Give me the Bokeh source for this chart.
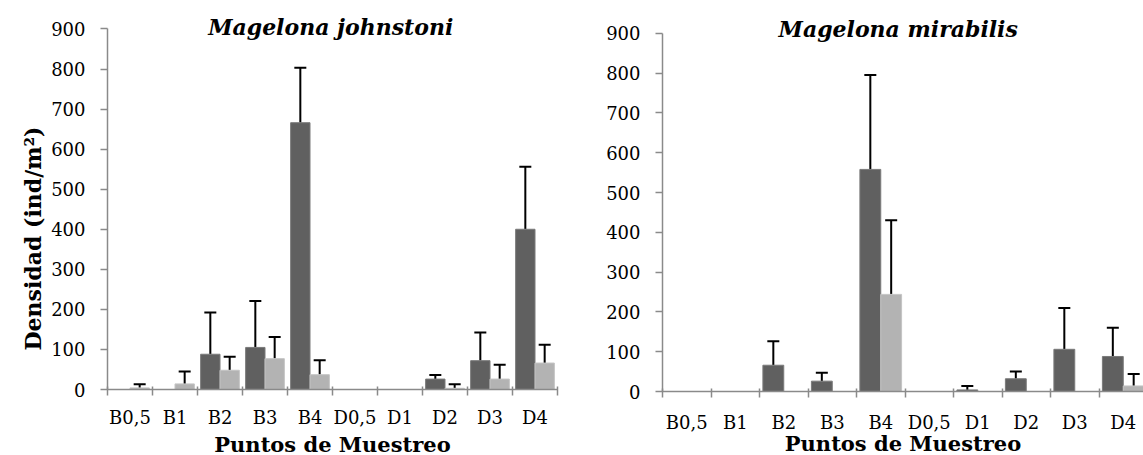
import numpy as np
from bokeh.plotting import figure
from bokeh.models import ColumnDataSource, Range1d, FixedTicker, Whisker, TeeHead, Label, Title
from bokeh.layouts import row
from bokeh.embed import file_html
from bokeh.resources import INLINE

# ---------------- data ----------------
categories = ["B0,5", "B1", "B2", "B3", "B4", "D0,5", "D1", "D2", "D3", "D4"]
y_ticks = [0, 100, 200, 300, 400, 500, 600, 700, 800, 900]

# Magelona johnstoni
johnstoni_dark = [0, 0, 88, 105, 666, 0, 0, 26, 72, 400]
johnstoni_dark_err = [0, 0, 104, 116, 137, 0, 0, 10, 70, 156]
johnstoni_light = [4, 14, 48, 77, 37, 0, 0, 3, 26, 66]
johnstoni_light_err = [9, 31, 34, 54, 36, 0, 0, 10, 36, 46]

# Magelona mirabilis
mirabilis_dark = [0, 0, 66, 26, 558, 0, 4, 32, 106, 88]
mirabilis_dark_err = [0, 0, 60, 21, 237, 0, 10, 18, 104, 72]
mirabilis_light = [0, 0, 0, 0, 244, 0, 0, 0, 0, 14]
mirabilis_light_err = [0, 0, 0, 0, 186, 0, 0, 0, 0, 30]

# ---------------- styles ----------------
FONT = "DejaVu Serif"
DARK = "#606060"
LIGHT = "#b3b3b3"
AXIS = "#8a8a8a"


def make_panel(title, dark, dark_err, light, light_err, x_end, y_end,
               title_x, title_y, frame_w, frame_h, b_left, b_right, b_bottom,
               label_standoff, xlabel_standoff, ylabel):
    n = len(categories)
    centers = np.arange(n) + 0.5
    p = figure(frame_width=frame_w, frame_height=frame_h, title=None,
               x_range=Range1d(0, x_end), y_range=Range1d(0, y_end),
               output_backend="svg", toolbar_location=None,
               min_border_left=b_left, min_border_right=b_right,
               min_border_top=0, min_border_bottom=b_bottom)
    p.xgrid.visible = False
    p.ygrid.visible = False
    p.outline_line_color = None
    p.background_fill_color = "white"

    off = 0.215
    bw = 0.43
    p.vbar(x=centers - off, top=dark, width=bw, bottom=0,
           fill_color=DARK, line_color="#7a7a7a", line_width=1)
    p.vbar(x=centers + off, top=light, width=bw, bottom=0,
           fill_color=LIGHT, line_color="#c4c4c4", line_width=1)

    for vals, errs, shift in ((dark, dark_err, -off), (light, light_err, off)):
        v = np.array(vals, dtype=float)
        e = np.array(errs, dtype=float)
        m = e > 0
        src = ColumnDataSource(dict(x=(centers + shift)[m], lower=v[m], upper=(v + e)[m]))
        w = Whisker(base="x", lower="lower", upper="upper", source=src,
                    dimension="height", line_color="black", line_width=2,
                    upper_head=TeeHead(size=12, line_color="black", line_width=2),
                    lower_head=None)
        p.add_layout(w)

    # x axis
    xa = p.xaxis[0]
    xa.ticker = FixedTicker(ticks=list(centers), minor_ticks=list(range(n + 1)))
    xa.major_label_overrides = {float(c): lab for c, lab in zip(centers, categories)}
    xa.major_tick_in = 0
    xa.major_tick_out = 0
    xa.major_tick_line_color = None
    xa.minor_tick_in = 3
    xa.minor_tick_out = 6
    xa.minor_tick_line_color = AXIS
    xa.minor_tick_line_width = 1.5
    xa.axis_line_color = AXIS
    xa.axis_line_width = 1.5
    xa.major_label_standoff = label_standoff
    xa.major_label_text_font = FONT
    xa.major_label_text_font_size = "18px"
    xa.major_label_text_color = "black"
    xa.axis_label = "Puntos de Muestreo"
    xa.axis_label_text_font = FONT
    xa.axis_label_text_font_style = "bold"
    xa.axis_label_text_font_size = "21px"
    xa.axis_label_text_color = "black"
    xa.axis_label_standoff = xlabel_standoff

    # y axis
    ya = p.yaxis[0]
    ya.ticker = FixedTicker(ticks=y_ticks)
    ya.bounds = (0, 900)
    ya.minor_tick_line_color = None
    ya.major_tick_in = 0
    ya.major_tick_out = 7
    ya.major_tick_line_color = AXIS
    ya.major_tick_line_width = 1.5
    ya.axis_line_color = AXIS
    ya.axis_line_width = 1.5
    ya.major_label_standoff = 15
    ya.major_label_text_font = FONT
    ya.major_label_text_font_size = "18px"
    ya.major_label_text_color = "black"

    # chart title drawn inside the (extended) frame
    p.add_layout(Label(x=title_x, y=title_y, text=title,
                       text_font=FONT, text_font_style="bold italic",
                       text_font_size="22px", text_align="center",
                       text_baseline="alphabetic", text_color="black"))
    if ylabel:
        p.add_layout(Title(text=ylabel, align="left", offset=39, standoff=5,
                           text_font=FONT, text_font_style="bold",
                           text_font_size="22px", text_color="black"), "left")
    return p


left = make_panel("Magelona johnstoni", johnstoni_dark, johnstoni_dark_err,
                  johnstoni_light, johnstoni_light_err,
                  x_end=10, y_end=389 / 0.4006, title_x=4.96, title_y=906,
                  frame_w=450, frame_h=389, b_left=107, b_right=43, b_bottom=64,
                  label_standoff=11, xlabel_standoff=1,
                  ylabel="Densidad (ind/m²)")
right = make_panel("Magelona mirabilis", mirabilis_dark, mirabilis_dark_err,
                   mirabilis_light, mirabilis_light_err,
                   x_end=481 / 48.5, y_end=391 / 0.398, title_x=4.86, title_y=912,
                   frame_w=481, frame_h=391, b_left=62, b_right=0, b_bottom=62,
                   label_standoff=14, xlabel_standoff=-5,
                   ylabel=None)

layout = row(left, right)
open("out.html", "w").write(file_html(layout, INLINE))
